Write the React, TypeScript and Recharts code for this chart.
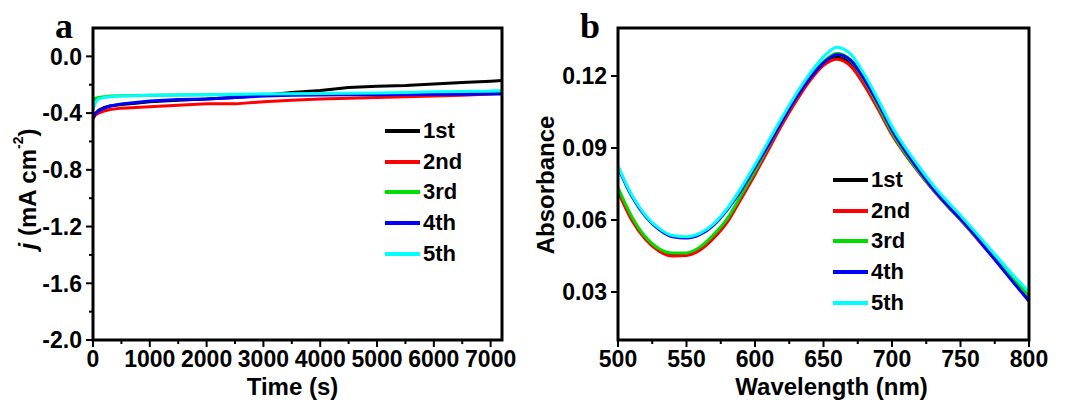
import { Legend, Line, LineChart, XAxis, YAxis } from "recharts";

const FONT = "'Liberation Sans', Arial, sans-serif";

const runLabels = ["1st", "2nd", "3rd", "4th", "5th"];
const runColors = ["#000000", "#ff0000", "#00dd00", "#0000ff", "#00ffff"];

// panel a: chronoamperometry, time in s, j in mA cm-2
const timeS = [0, 50, 100, 200, 300, 500, 750, 1000, 1500, 2000, 2500, 3000, 3500, 4000, 4500, 5000, 5500, 6000, 6500, 7000, 7200];
const j1st = [-0.43, -0.4, -0.38, -0.36, -0.35, -0.34, -0.33, -0.32, -0.31, -0.3, -0.29, -0.275, -0.255, -0.24, -0.22, -0.21, -0.205, -0.195, -0.185, -0.175, -0.17];
const j2nd = [-0.44, -0.41, -0.4, -0.385, -0.375, -0.365, -0.36, -0.355, -0.345, -0.335, -0.335, -0.32, -0.31, -0.3, -0.295, -0.29, -0.285, -0.28, -0.275, -0.265, -0.26];
const j3rd = [-0.31, -0.295, -0.29, -0.285, -0.28, -0.278, -0.276, -0.275, -0.272, -0.27, -0.269, -0.268, -0.267, -0.265, -0.264, -0.262, -0.261, -0.26, -0.258, -0.255, -0.255];
const j4th = [-0.43, -0.4, -0.385, -0.365, -0.35, -0.335, -0.325, -0.315, -0.305, -0.3, -0.29, -0.28, -0.275, -0.272, -0.271, -0.27, -0.269, -0.268, -0.267, -0.265, -0.265];
const j5th = [-0.37, -0.32, -0.3, -0.29, -0.285, -0.28, -0.277, -0.275, -0.272, -0.27, -0.268, -0.265, -0.264, -0.262, -0.26, -0.258, -0.254, -0.25, -0.248, -0.245, -0.24];

// panel b: absorbance spectra
const wavelengthNm = [500, 510, 520, 530, 540, 550, 560, 570, 580, 590, 600, 610, 620, 630, 640, 650, 660, 670, 680, 690, 700, 710, 720, 730, 740, 750, 760, 770, 780, 790, 800];
const abs1st = [0.0725, 0.0605, 0.0525, 0.0474, 0.0455, 0.0457, 0.048, 0.053, 0.06, 0.0697, 0.0797, 0.0902, 0.1007, 0.1102, 0.1187, 0.1252, 0.1278, 0.1248, 0.1168, 0.1067, 0.096, 0.0873, 0.0798, 0.0728, 0.0663, 0.0603, 0.0538, 0.0473, 0.0408, 0.0343, 0.028];
const abs2nd = [0.072, 0.06, 0.052, 0.047, 0.045, 0.0452, 0.0475, 0.0525, 0.0593, 0.069, 0.079, 0.0895, 0.1, 0.1095, 0.118, 0.1245, 0.127, 0.124, 0.116, 0.106, 0.0955, 0.087, 0.0795, 0.0725, 0.066, 0.06, 0.0535, 0.047, 0.0405, 0.034, 0.0275];
const abs3rd = [0.0735, 0.0615, 0.053, 0.048, 0.0462, 0.0463, 0.0488, 0.054, 0.0608, 0.0705, 0.0805, 0.091, 0.1015, 0.111, 0.1195, 0.126, 0.1295, 0.1265, 0.118, 0.1075, 0.0965, 0.0875, 0.0798, 0.0728, 0.0662, 0.0602, 0.0538, 0.0473, 0.0408, 0.0345, 0.0285];
const abs4th = [0.082, 0.07, 0.0615, 0.056, 0.053, 0.0525, 0.054, 0.058, 0.0645, 0.0725, 0.082, 0.0915, 0.1015, 0.111, 0.119, 0.1255, 0.129, 0.1265, 0.1185, 0.1085, 0.0975, 0.0885, 0.0805, 0.073, 0.0665, 0.0605, 0.054, 0.047, 0.04, 0.033, 0.0262];
const abs5th = [0.0825, 0.0705, 0.062, 0.0565, 0.0535, 0.053, 0.0545, 0.0585, 0.065, 0.0735, 0.083, 0.093, 0.103, 0.1125, 0.121, 0.128, 0.132, 0.129, 0.1205, 0.11, 0.099, 0.09, 0.082, 0.0745, 0.068, 0.062, 0.0555, 0.049, 0.0425, 0.036, 0.03];

const timeMajor = [0, 1000, 2000, 3000, 4000, 5000, 6000, 7000];
const timeMinor = [500, 1500, 2500, 3500, 4500, 5500, 6500];
const jMajor = [-2.0, -1.6, -1.2, -0.8, -0.4, 0.0];
const jMinor = [-1.8, -1.4, -1.0, -0.6, -0.2];
const wlMajor = [500, 550, 600, 650, 700, 750, 800];
const wlMinor = [525, 575, 625, 675, 725, 775];
const absMajor = [0.03, 0.06, 0.09, 0.12];

const jData = timeS.map((t, i) => {
  const row: Record<string, number> = { t };
  [j1st, j2nd, j3rd, j4th, j5th].forEach((s, k) => (row[`r${k}`] = s[i]));
  return row;
});
const absData = wavelengthNm.map((w, i) => {
  const row: Record<string, number> = { w };
  [abs1st, abs2nd, abs3rd, abs4th, abs5th].forEach((s, k) => (row[`r${k}`] = s[i]));
  return row;
});

const H = 403;
const TOP = 28;
const XAXIS_H = 63;

const isIn = (arr: number[], v: number) => arr.some((m) => Math.abs(m - v) < 1e-9);

function LeftTick(props: any) {
  const { x, y, payload, majors, fmt } = props;
  const major = isIn(majors, payload.value);
  return (
    <g>
      <line x1={x} x2={x - (major ? 7 : 4)} y1={y} y2={y} stroke="#000" strokeWidth={2} />
      {major && (
        <text x={x - 11} y={y} dy="0.36em" textAnchor="end" fontFamily={FONT} fontWeight="bold" fontSize={23} fill="#000">
          {fmt(payload.value)}
        </text>
      )}
    </g>
  );
}

function BottomTick(props: any) {
  const { x, y, payload, majors } = props;
  const major = isIn(majors, payload.value);
  return (
    <g>
      <line x1={x} x2={x} y1={y} y2={y + (major ? 7 : 4)} stroke="#000" strokeWidth={2} />
      {major && (
        <text x={x} y={y + 27} textAnchor="middle" fontFamily={FONT} fontWeight="bold" fontSize={23} fill="#000">
          {payload.value}
        </text>
      )}
    </g>
  );
}

// x-axis title plus the full plot box, drawn from the axis viewBox
function XTitle({ viewBox, text, shift }: any) {
  const { x, y, width } = viewBox;
  return (
    <g>
      <path
        d={`M${x},${y} L${x},${TOP} L${x + width},${TOP} L${x + width},${y} Z`}
        fill="none"
        stroke="#000"
        strokeWidth={3}
      />
      <text x={x + width / 2 + shift} y={y + 55} textAnchor="middle" fontFamily={FONT} fontWeight="bold" fontSize={24}>
        {text}
      </text>
    </g>
  );
}

function RunLegend(props: any) {
  const { payload } = props;
  return (
    <div style={{ fontFamily: FONT, fontWeight: "bold", fontSize: 22, color: "#000" }}>
      {(payload || []).map((e: any) => (
        <div key={e.value} style={{ display: "flex", alignItems: "center", height: 30.6 }}>
          <span style={{ display: "inline-block", width: 35, height: 4, background: e.color }} />
          <span style={{ marginLeft: 3 }}>{e.value}</span>
        </div>
      ))}
    </div>
  );
}

function PanelA() {
  return (
    <LineChart width={530} height={H} data={jData} margin={{ top: TOP, right: 28, bottom: 0, left: 0 }}>
      <XAxis
        dataKey="t"
        type="number"
        domain={[0, 7200]}
        allowDataOverflow
        ticks={[...timeMajor, ...timeMinor].sort((a, b) => a - b)}
        interval={0}
        height={XAXIS_H}
        tickSize={0}
        tickMargin={0}
        tickLine={false}
        axisLine={false}
        tick={(p: any) => <BottomTick {...p} majors={timeMajor} />}
        label={(p: any) => <XTitle viewBox={p.viewBox} text="Time (s)" shift={-5} />}
      />
      <YAxis
        type="number"
        domain={[-2, 0.2]}
        allowDataOverflow
        ticks={[...jMajor, ...jMinor].sort((a, b) => a - b)}
        interval={0}
        width={93}
        tickSize={0}
        tickMargin={0}
        tickLine={false}
        axisLine={false}
        tick={(p: any) => <LeftTick {...p} majors={jMajor} fmt={(v: number) => (Math.abs(v) < 1e-9 ? "0.0" : v.toFixed(1))} />}
        label={(p: any) => {
          const vb = p.viewBox;
          const cx = vb.x + 27;
          const cy = vb.y + vb.height / 2 + 5;
          return (
            <text x={cx} y={cy} transform={`rotate(-90, ${cx}, ${cy})`} textAnchor="middle" dominantBaseline="central" fontFamily={FONT} fontWeight="bold" fontSize={24}>
              <tspan fontStyle="italic">j</tspan>
              <tspan> (mA cm</tspan>
              <tspan dy={-9} fontSize={14}>-2</tspan>
              <tspan dy={9}>)</tspan>
            </text>
          );
        }}
      />
      <Legend layout="vertical" align="center" verticalAlign="middle" content={<RunLegend />} wrapperStyle={{ left: 385, top: 116, width: "auto" }} />
      {runLabels.map((name, k) => (
        <Line key={name} name={name} dataKey={`r${k}`} stroke={runColors[k]} strokeWidth={3} dot={false} type="linear" isAnimationActive={false} />
      ))}
    </LineChart>
  );
}

function PanelB() {
  return (
    <LineChart width={538} height={H} data={absData} margin={{ top: TOP, right: 39, bottom: 0, left: 0 }}>
      <XAxis
        dataKey="w"
        type="number"
        domain={[500, 800]}
        allowDataOverflow
        ticks={[...wlMajor, ...wlMinor].sort((a, b) => a - b)}
        interval={0}
        height={XAXIS_H}
        tickSize={0}
        tickMargin={0}
        tickLine={false}
        axisLine={false}
        tick={(p: any) => <BottomTick {...p} majors={wlMajor} />}
        label={(p: any) => <XTitle viewBox={p.viewBox} text="Wavelength (nm)" shift={8} />}
      />
      <YAxis
        type="number"
        domain={[0.01, 0.14]}
        allowDataOverflow
        ticks={absMajor}
        interval={0}
        width={88}
        tickSize={0}
        tickMargin={0}
        tickLine={false}
        axisLine={false}
        tick={(p: any) => <LeftTick {...p} majors={absMajor} fmt={(v: number) => v.toFixed(2)} />}
        label={(p: any) => {
          const vb = p.viewBox;
          const cx = vb.x + 15;
          const cy = vb.y + vb.height / 2 + 1;
          return (
            <text x={cx} y={cy} transform={`rotate(-90, ${cx}, ${cy})`} textAnchor="middle" dominantBaseline="central" fontFamily={FONT} fontWeight="bold" fontSize={24}>
              Absorbance
            </text>
          );
        }}
      />
      <Legend layout="vertical" align="center" verticalAlign="middle" content={<RunLegend />} wrapperStyle={{ left: 303, top: 165, width: "auto" }} />
      {runLabels.map((name, k) => (
        <Line key={name} name={name} dataKey={`r${k}`} stroke={runColors[k]} strokeWidth={3} dot={false} type="monotone" isAnimationActive={false} />
      ))}
    </LineChart>
  );
}

const letterStyle = {
  position: "absolute" as const,
  fontFamily: "'Liberation Serif', 'Times New Roman', serif",
  fontWeight: "bold" as const,
  fontSize: 36,
  lineHeight: "24px",
};

export default function App() {
  return (
    <div style={{ position: "absolute", left: 0, top: 0, width: 1068, height: 403, background: "#fff" }}>
      <div style={{ position: "absolute", left: 0, top: 0 }}>
        <PanelA />
      </div>
      <div style={{ position: "absolute", left: 530, top: 0 }}>
        <PanelB />
      </div>
      <span style={{ ...letterStyle, left: 55, top: 14 }}>a</span>
      <span style={{ ...letterStyle, left: 580, top: 14 }}>b</span>
    </div>
  );
}
